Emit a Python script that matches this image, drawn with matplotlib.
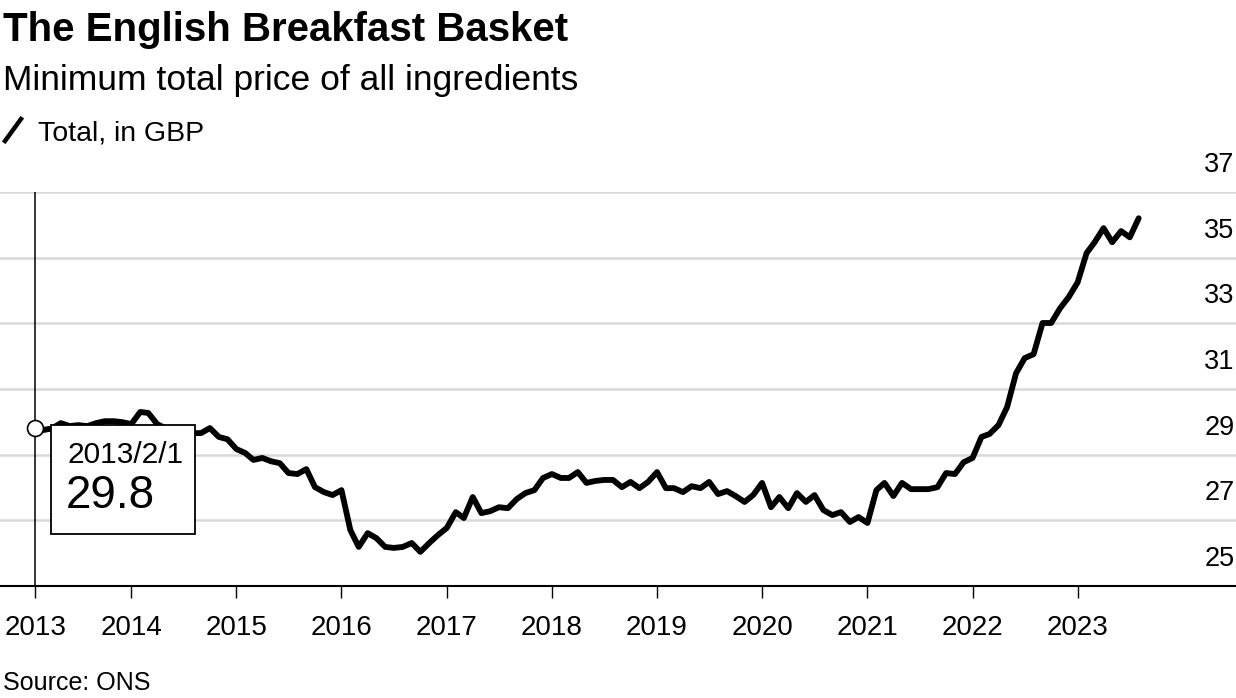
import matplotlib
matplotlib.use("Agg")
import matplotlib.pyplot as plt
import matplotlib.dates as mdates
import matplotlib.transforms as mtransforms
from matplotlib.lines import Line2D
from matplotlib.patches import Rectangle
import pandas as pd

plt.rcParams['font.family'] = ['Liberation Sans', 'DejaVu Sans']

# Monthly minimum basket price (GBP), Feb 2013 - Aug 2023
start_month = "2013-02-01"
basket_total = [
    # 2013 (Feb-Dec)
    29.8, 29.75, 29.8, 29.96, 29.87, 29.9, 29.87, 29.96, 30.02, 30.02, 29.99,
    # 2014
    29.93, 30.30, 30.27, 29.93, 29.8, 29.7, 29.65, 29.65, 29.66, 29.81, 29.54, 29.47,
    # 2015
    29.17, 29.05, 28.84, 28.90, 28.80, 28.74, 28.44, 28.41, 28.56, 28.01, 27.86, 27.77,
    # 2016
    27.92, 26.70, 26.19, 26.61, 26.46, 26.19, 26.16, 26.19, 26.31, 26.04, 26.31, 26.55,
    # 2017
    26.77, 27.25, 27.07, 27.71, 27.22, 27.28, 27.40, 27.37, 27.65, 27.83, 27.92, 28.29,
    # 2018
    28.41, 28.29, 28.29, 28.47, 28.14, 28.20, 28.23, 28.23, 28.01, 28.17, 27.98, 28.17,
    # 2019
    28.47, 27.98, 27.98, 27.86, 28.04, 27.98, 28.17, 27.80, 27.89, 27.74, 27.56, 27.77,
    # 2020
    28.14, 27.40, 27.71, 27.37, 27.83, 27.56, 27.77, 27.31, 27.16, 27.25, 26.95, 27.10,
    # 2021
    26.92, 27.92, 28.14, 27.74, 28.14, 27.95, 27.95, 27.95, 28.01, 28.44, 28.41, 28.77,
    # 2022
    28.90, 29.54, 29.63, 29.90, 30.45, 31.48, 31.94, 32.06, 33.01, 33.01, 33.46, 33.80,
    # 2023 (Jan-Aug)
    34.25, 35.14, 35.47, 35.90, 35.47, 35.81, 35.62, 36.20,
]
dates = pd.date_range(start_month, periods=len(basket_total), freq="MS")

year_ticks = ["2013-02-01"] + [f"{y}-01-01" for y in range(2014, 2024)]
year_labels = [str(y) for y in range(2013, 2024)]
y_ticks = [25, 27, 29, 31, 33, 35, 37]

highlight_date = "2013/2/1"
highlight_value = basket_total[0]

W, H = 1236, 698
fig = plt.figure(figsize=(W / 100, H / 100), dpi=100)
ax = fig.add_axes([0.0, (H - 586) / H, 1.0, (586 - 192) / H])

# gridlines
ax.set_ylim(25, 37)
ax.set_yticks(y_ticks)
ax.yaxis.grid(True, color='#d9d9d9', linewidth=1.8)
ax.set_axisbelow(True)
ax.tick_params(axis='y', length=0, labelleft=False, labelright=False)
for v in y_ticks:
    ax.annotate(str(v), xy=(1, v), xycoords=('axes fraction', 'data'),
                xytext=(-1, 19.5), textcoords='offset points',
                ha='right', va='center', fontsize=19.5, color='black')

# x axis
x0 = pd.Timestamp(start_month) - pd.Timedelta(days=122)
x1 = pd.Timestamp("2023-01-01") + pd.Timedelta(days=550)
ax.set_xlim(x0, x1)
ax.set_xticks(pd.to_datetime(year_ticks))
ax.set_xticklabels(year_labels)
ax.tick_params(axis='x', direction='out', length=8.6, width=1.0, color='black',
               labelsize=20, pad=12.5)

for s in ['top', 'right', 'left']:
    ax.spines[s].set_visible(False)
ax.spines['bottom'].set_linewidth(1.5)
ax.spines['bottom'].set_color('black')

# main line
ax.plot(dates, basket_total, color='black', linewidth=4.2, solid_joinstyle='round',
        solid_capstyle='round', zorder=3)

# hover marker + vertical rule
ax.axvline(dates[0], color='black', linewidth=1.1, zorder=2)
ax.plot([dates[0]], [highlight_value], marker='o', markersize=11.5, markerfacecolor='white',
        markeredgecolor='black', markeredgewidth=1.2, zorder=6, clip_on=False)

# tooltip box anchored to the highlighted point (units: inches from the point)
anchor = fig.dpi_scale_trans + mtransforms.ScaledTranslation(
    mdates.date2num(dates[0]), highlight_value, ax.transData)
ax.add_patch(Rectangle((0.16, 0.03 - 1.09), 1.44, 1.09, transform=anchor,
                       facecolor='white', edgecolor='black', linewidth=1.3,
                       zorder=7, clip_on=False))
ax.text(0.32, -0.27, highlight_date, transform=anchor, fontsize=21.5,
        ha='left', va='center', zorder=8)
ax.text(0.31, -0.68, f"{highlight_value:.1f}", transform=anchor, fontsize=33,
        ha='left', va='center', zorder=8)

# header
fig.text(3 / W, 1 - 41 / H, "The English Breakfast Basket", fontsize=29,
         fontweight='bold', ha='left', va='baseline')
fig.text(3 / W, 1 - 90 / H, "Minimum total price of all ingredients", fontsize=25.5,
         ha='left', va='baseline')
fig.add_artist(Line2D([5 / W, 21 / W], [1 - 141 / H, 1 - 119 / H], color='black',
                      linewidth=3.2, transform=fig.transFigure))
fig.text(38 / W, 1 - 140 / H, "Total, in GBP", fontsize=20.5, ha='left', va='baseline')

# footer
fig.text(3 / W, 1 - 690 / H, "Source: ONS", fontsize=18, ha='left', va='baseline')

fig.savefig("out.png", dpi=100)
